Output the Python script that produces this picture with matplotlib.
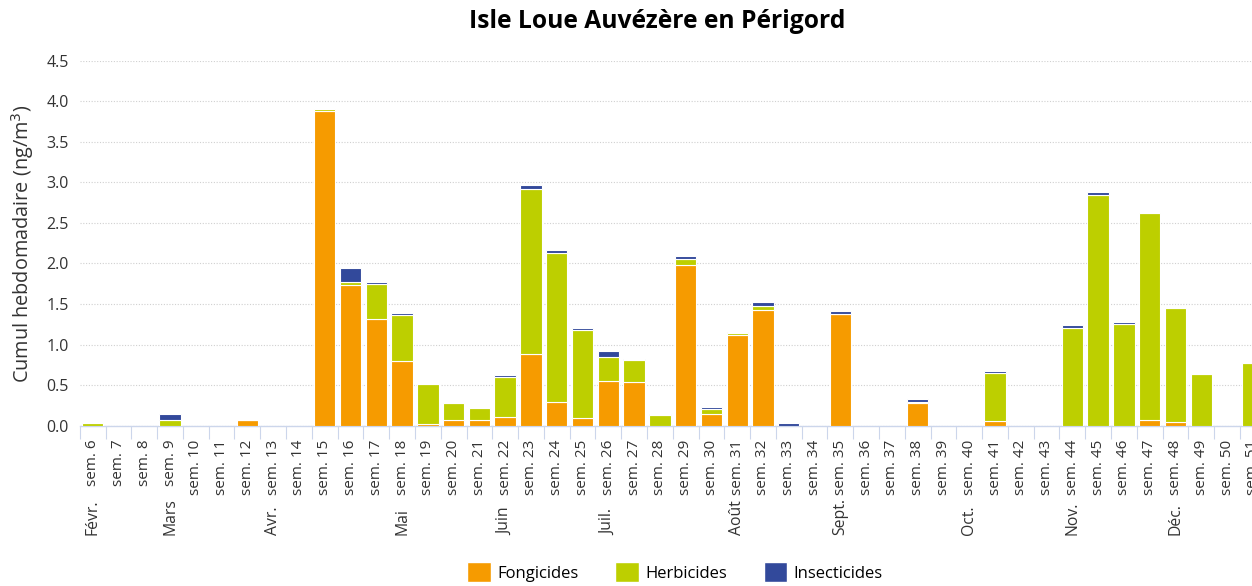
import matplotlib
matplotlib.use("Agg")
import matplotlib.pyplot as plt
import matplotlib.transforms as mtransforms
from matplotlib.patches import Patch
import numpy as np

plt.rcParams['font.family'] = ['Open Sans', 'DejaVu Sans']

weeks = [f"sem. {i}" for i in range(6, 52)]

fongicides = [0, 0, 0, 0, 0, 0, 0.075, 0, 0, 3.88, 1.73, 1.31, 0.80, 0.02,
              0.07, 0.07, 0.11, 0.89, 0.29, 0.10, 0.555, 0.54, 0, 1.98, 0.145,
              1.12, 1.43, 0, 0, 1.38, 0, 0, 0.28, 0, 0, 0.06, 0, 0, 0, 0,
              0, 0.065, 0.05, 0, 0, 0]
herbicides = [0.03, 0, 0, 0.065, 0, 0, 0, 0, 0, 0.03, 0.04, 0.44, 0.57, 0.49,
              0.21, 0.15, 0.49, 2.03, 1.84, 1.08, 0.29, 0.27, 0.13, 0.08, 0.06,
              0.02, 0.05, 0, 0, 0, 0, 0, 0.015, 0, 0, 0.595, 0, 0, 1.20, 2.845,
              1.26, 2.56, 1.405, 0.64, 0, 0.77]
insecticides = [0, 0, 0, 0.075, 0, 0, 0, 0, 0, 0, 0.17, 0.02, 0.02, 0,
                0, 0, 0.03, 0.05, 0.04, 0.03, 0.08, 0.015, 0.02, 0.035, 0.02,
                0.015, 0.045, 0.03, 0, 0.04, 0, 0, 0.035, 0, 0, 0.015, 0, 0, 0.04, 0.035,
                0.015, 0, 0, 0, 0, 0]

months = {"Févr.": "sem. 6", "Mars": "sem. 9", "Avr.": "sem. 13", "Mai": "sem. 18",
          "Juin": "sem. 22", "Juil.": "sem. 26", "Août": "sem. 31", "Sept.": "sem. 35",
          "Oct.": "sem. 40", "Nov.": "sem. 44", "Déc.": "sem. 48"}

series = [("Fongicides", fongicides, "#F69B00"),
          ("Herbicides", herbicides, "#BDCF00"),
          ("Insecticides", insecticides, "#32499B")]

W, H = 1252, 586
fig = plt.figure(figsize=(W / 100, H / 100), dpi=100)
left_px, right_px = 79.8, 1265.7
top_px, bot_px = 60.7, 425.7
ax = fig.add_axes([left_px / W, 1 - bot_px / H, (right_px - left_px) / W, (bot_px - top_px) / H])

x = np.arange(len(weeks))
bottom = np.zeros(len(weeks))
for name, vals, col in series:
    v = np.array(vals, dtype=float)
    ax.bar(x, v, bottom=bottom, width=0.83, color=col, edgecolor="white",
           linewidth=0.8, label=name, zorder=3)
    bottom += v

ax.set_xlim(-0.5, len(weeks) - 0.5)
ax.set_ylim(0, 4.5)
ax.set_yticks(np.arange(0, 4.51, 0.5))
ax.set_yticklabels([f"{v:.1f}" for v in np.arange(0, 4.51, 0.5)], fontsize=11.5, color="#333333")
ax.yaxis.grid(True, linestyle=(0, (1, 1.5)), color="#d0d0d0", linewidth=0.8, zorder=0)
ax.tick_params(axis="y", length=0, pad=8)

ax.set_xticks(x)
ax.set_xticklabels(weeks, rotation=90, fontsize=11, color="#333333", va="top")
ax.tick_params(axis="x", which="major", length=0, pad=10)
ax.set_xticks(np.arange(-0.5, len(weeks), 1), minor=True)
ax.tick_params(axis="x", which="minor", length=9, color="#ccd6eb", width=0.8)

for s in ["top", "right", "left"]:
    ax.spines[s].set_visible(False)
ax.spines["bottom"].set_color("#ccd6eb")
ax.spines["bottom"].set_linewidth(1.0)

trans = mtransforms.blended_transform_factory(ax.transData, ax.transAxes)
for m, wk in months.items():
    xi = weeks.index(wk)
    ax.text(xi, (bot_px - 535) / (bot_px - top_px), m, rotation=90, ha="center", va="bottom",
            fontsize=11.3, color="#333333", transform=trans)

fig.text(23 / W, 1 - 244 / H, "Cumul hebdomadaire (ng/m$^3$)", rotation=90, ha="center",
         va="center", fontsize=14.3, color="#333333")

fig.text(657 / W, 1 - 22 / H, "Isle Loue Auvézère en Périgord", ha="center", va="center",
         fontsize=17.7, fontweight="bold", color="#000000")

handles = [Patch(facecolor=c, edgecolor="white", label=n) for n, _, c in series]
fig.legend(handles=handles, loc="center", bbox_to_anchor=(675 / W, 1 - 572 / H), ncol=3,
           frameon=False, fontsize=12, handlelength=1.4, handleheight=1.4,
           columnspacing=2.2, handletextpad=0.4)

fig.savefig("out.png", dpi=100)
